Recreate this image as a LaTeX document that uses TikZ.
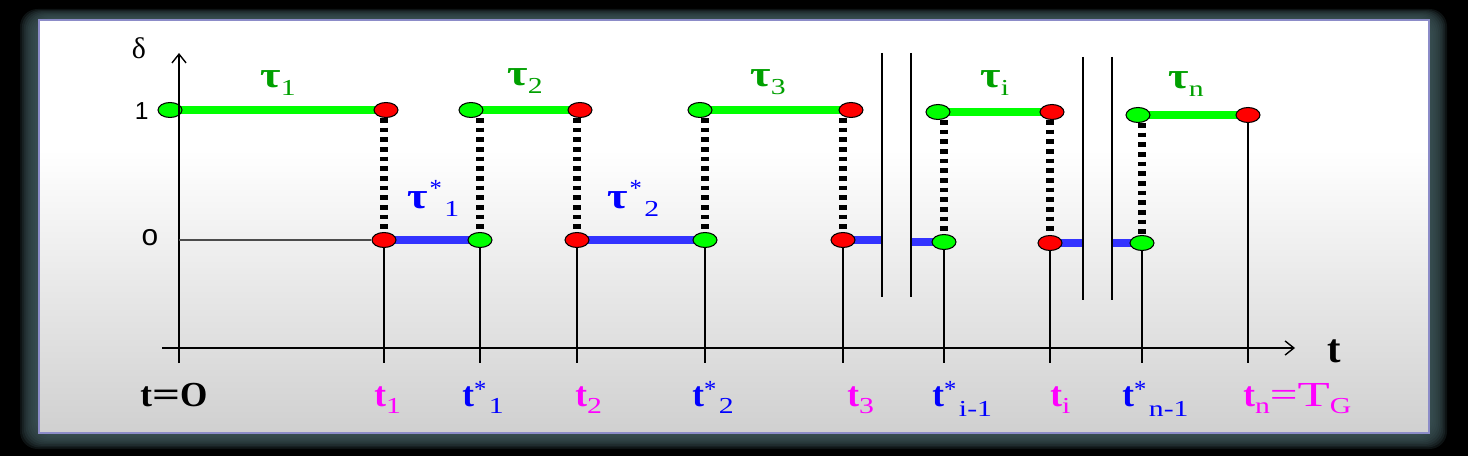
\documentclass[tikz,border=0pt]{standalone}
\usepackage{fontspec}
\setmainfont{Liberation Serif}
\newfontfamily\arialf{Liberation Sans}
\usetikzlibrary{shapes.geometric,arrows.meta}

\definecolor{glowslate}{HTML}{3E5659}
\definecolor{panelline}{HTML}{8C8CC8}
\definecolor{panelgray}{HTML}{D0D0D0}
\definecolor{ongreen}{HTML}{00FF00}
\definecolor{taugreen}{HTML}{00A000}
\definecolor{offblue}{HTML}{3333FF}
\definecolor{starblue}{HTML}{0000FF}
\definecolor{timemagenta}{HTML}{FF00FF}

\newcommand{\tsub}[2][4pt]{\raisebox{-#1}{\scalebox{1.3}[1]{\fontsize{13}{13}\selectfont\mdseries #2}}}
\newcommand{\tstar}[1][5pt]{\raisebox{#1}{\fontsize{14}{14}\selectfont\mdseries *}\hspace{1.5pt}}
\newcommand{\wideeq}{\scalebox{1.4}[1]{=}}
\newcommand{\wtau}{\scalebox{1.2}[1]{τ}}

\pgfdeclarelayer{panel}
\pgfdeclarelayer{lines}
\pgfsetlayers{panel,lines,main}

\begin{document}
\begin{tikzpicture}[x=0.02cm,y=-0.02cm,
  dot/.style={ellipse,draw=black,line width=0.6pt,minimum width=0.48cm,minimum height=0.30cm,inner sep=0pt},
  ondot/.style={dot,fill=ongreen},
  offdot/.style={dot,fill=red},
  onpath/.style={ongreen,line width=4pt},
  offpath/.style={offblue,line width=4pt},
  jump/.style={black,line width=4.5pt,dash pattern=on 2.6pt off 2.9pt},
  tick/.style={black,line width=1.1pt},
  breakline/.style={black,line width=1.2pt},
  axis/.style={black,line width=0.8pt,-{Straight Barb[length=5pt,width=8pt]}},
  taulab/.style={anchor=base west,inner sep=0pt,font=\fontsize{21}{21}\selectfont\bfseries},
  timelab/.style={anchor=base west,inner sep=0pt,font=\fontsize{20}{20}\selectfont}
]

\useasboundingbox (0,0) rectangle (1468,456);

%====================================================
% Frame : black page, glow and panel
%====================================================
\begin{pgfonlayer}{panel}
\fill[black] (0,0) rectangle (1468,456);
\foreach \k in {1,...,10}
  \fill[glowslate,opacity=0.22,rounded corners=10pt]
    (39-1.9*\k,20-1.1*\k) rectangle (1429+1.8*\k,433+1.6*\k);
\fill[white] (39,20) rectangle (1429,150);
\shade[top color=white,bottom color=panelgray] (39,150) rectangle (1429,433);
\draw[panelline,line width=0.8pt] (39,20) rectangle (1429,433);
\end{pgfonlayer}

%====================================================
% States : delta = 1 (green) and delta = 0 (red)
%====================================================
% delta = 1
\node[ondot]  (g0) at (170,110) {};
\node[offdot] (r1) at (386,110) {};
\node[ondot]  (g1) at (471,110) {};
\node[offdot] (r2) at (580,110) {};
\node[ondot]  (g2) at (700,110) {};
\node[offdot] (r3) at (851,110) {};
\node[ondot]  (gi) at (938,112) {};
\node[offdot] (ri) at (1052,112) {};
\node[ondot]  (gn) at (1138,115) {};
\node[offdot] (rn) at (1248,115) {};

% delta = 0
\node[offdot] (br1) at (384,240) {};
\node[ondot]  (bg1) at (480,240) {};
\node[offdot] (br2) at (577,240) {};
\node[ondot]  (bg2) at (705,240) {};
\node[offdot] (br3) at (843,240) {};
\node[ondot]  (bgi) at (944,242) {};
\node[offdot] (bri) at (1050,243) {};
\node[ondot]  (bgn) at (1142,243) {};

% Breaks in the time axis
\coordinate (brk1) at (882,53);
\coordinate (brk2) at (911,53);
\coordinate (brk3) at (1083,57);
\coordinate (brk4) at (1112,57);
\draw[breakline] (brk1) -- ++(0,244);
\draw[breakline] (brk2) -- ++(0,244);
\draw[breakline] (brk3) -- ++(0,243);
\draw[breakline] (brk4) -- ++(0,243);

%====================================================
% Intervals
%====================================================
\begin{pgfonlayer}{lines}
% On intervals
\draw[onpath] (g0.center) -- (r1.center);
\draw[onpath] (g1.center) -- (r2.center);
\draw[onpath] (g2.center) -- (r3.center);
\draw[onpath] (gi.center) -- (ri.center);
\draw[onpath] (gn.center) -- (rn.center);

% Off intervals
\draw[offpath] (br1.center) -- (bg1.center);
\draw[offpath] (br2.center) -- (bg2.center);
\draw[offpath] (br3.center) -- (br3.center -| brk1);
\draw[offpath] (brk2 |- bgi.center) -- (bgi.center);
\draw[offpath] (bri.center) -- (bri.center -| brk3);
\draw[offpath] (brk4 |- bgn.center) -- (bgn.center);

% Switching
\draw[jump] (br1 |- r1.south) -- (br1.north);
\draw[jump] (bg1 |- g1.south) -- (bg1.north);
\draw[jump] (br2 |- r2.south) -- (br2.north);
\draw[jump] (bg2 |- g2.south) -- (bg2.north);
\draw[jump] (br3 |- r3.south) -- (br3.north);
\draw[jump] (bgi |- gi.south) -- (bgi.north);
\draw[jump] (bri |- ri.south) -- (bri.north);
\draw[jump] (bgn |- gn.south) -- (bgn.north);
\end{pgfonlayer}

%====================================================
% Axes
%====================================================
\coordinate (ybot) at (179,363);
\coordinate (ytop) at (179,53);
\coordinate (tleft) at (162,348);
\coordinate (tright) at (1295,348);

\draw[axis] (ybot) -- (ytop);
\draw[axis] (tleft) -- (tright);
\draw[gray!60!black,line width=0.6pt] (ybot |- br1) -- (br1.west);

% Ticks
\foreach \n in {br1,bg1,br2,bg2,br3,bgi,bri,bgn,rn}
  \draw[tick] (\n.south) -- (\n |- ybot);

\node[font=\fontsize{17}{17}\selectfont] (delta) at (139,48) {δ};
\node[font=\arialf\fontsize{14}{14}\selectfont,anchor=east,inner sep=0pt] (one) at (149,111) {1};
\node[font=\arialf\fontsize{17}{17}\selectfont,inner sep=0pt] (zero) at (150,238) {o};
\node[timelab,font=\fontsize{23}{23}\selectfont\bfseries] (tname) at (1327,362) {t};

%====================================================
% Labels
%====================================================
% Durations
\node[taulab,text=taugreen] (tau1) at (260,88) {\wtau\tsub[4pt]{1}};
\node[taulab,text=taugreen] (tau2) at (507,86) {\wtau\tsub[4pt]{2}};
\node[taulab,text=taugreen] (tau3) at (750,87) {\wtau\tsub[4pt]{3}};
\node[taulab,text=taugreen] (taui) at (980,88) {\wtau\tsub[4pt]{i}};
\node[taulab,text=taugreen] (taun) at (1168,89) {\wtau\tsub[4pt]{n}};
\node[taulab,text=starblue] (taus1) at (407,209) {\wtau\hspace{1pt}\tstar[7pt]\tsub{1}};
\node[taulab,text=starblue] (taus2) at (607,209) {\wtau\hspace{1pt}\tstar[7pt]\tsub{2}};

% Switching times
\node[timelab,text=black] (t0) at (140,406) {\bfseries t\wideeq O};
\node[timelab,text=timemagenta] (t1) at (374,406) {\textbf{t}\tsub{1}};
\node[timelab,text=starblue] (ts1) at (462,406) {\textbf{t}\tstar\tsub{1}};
\node[timelab,text=timemagenta] (t2) at (575,406) {\textbf{t}\tsub{2}};
\node[timelab,text=starblue] (ts2) at (692,406) {\textbf{t}\tstar\tsub{2}};
\node[timelab,text=timemagenta] (t3) at (847,406) {\textbf{t}\tsub{3}};
\node[timelab,text=starblue] (tsi) at (932,406) {\textbf{t}\tstar\tsub[6pt]{i-1}};
\node[timelab,text=timemagenta] (ti) at (1050,406) {\textbf{t}\tsub{i}};
\node[timelab,text=starblue] (tsn) at (1122,406) {\textbf{t}\tstar\tsub[6pt]{n-1}};
\node[timelab,text=timemagenta] (tn) at (1243,406) {\textbf{t}\tsub{n}\wideeq\scalebox{1.5}[1]{T}\tsub{G}};

\end{tikzpicture}
\end{document}
